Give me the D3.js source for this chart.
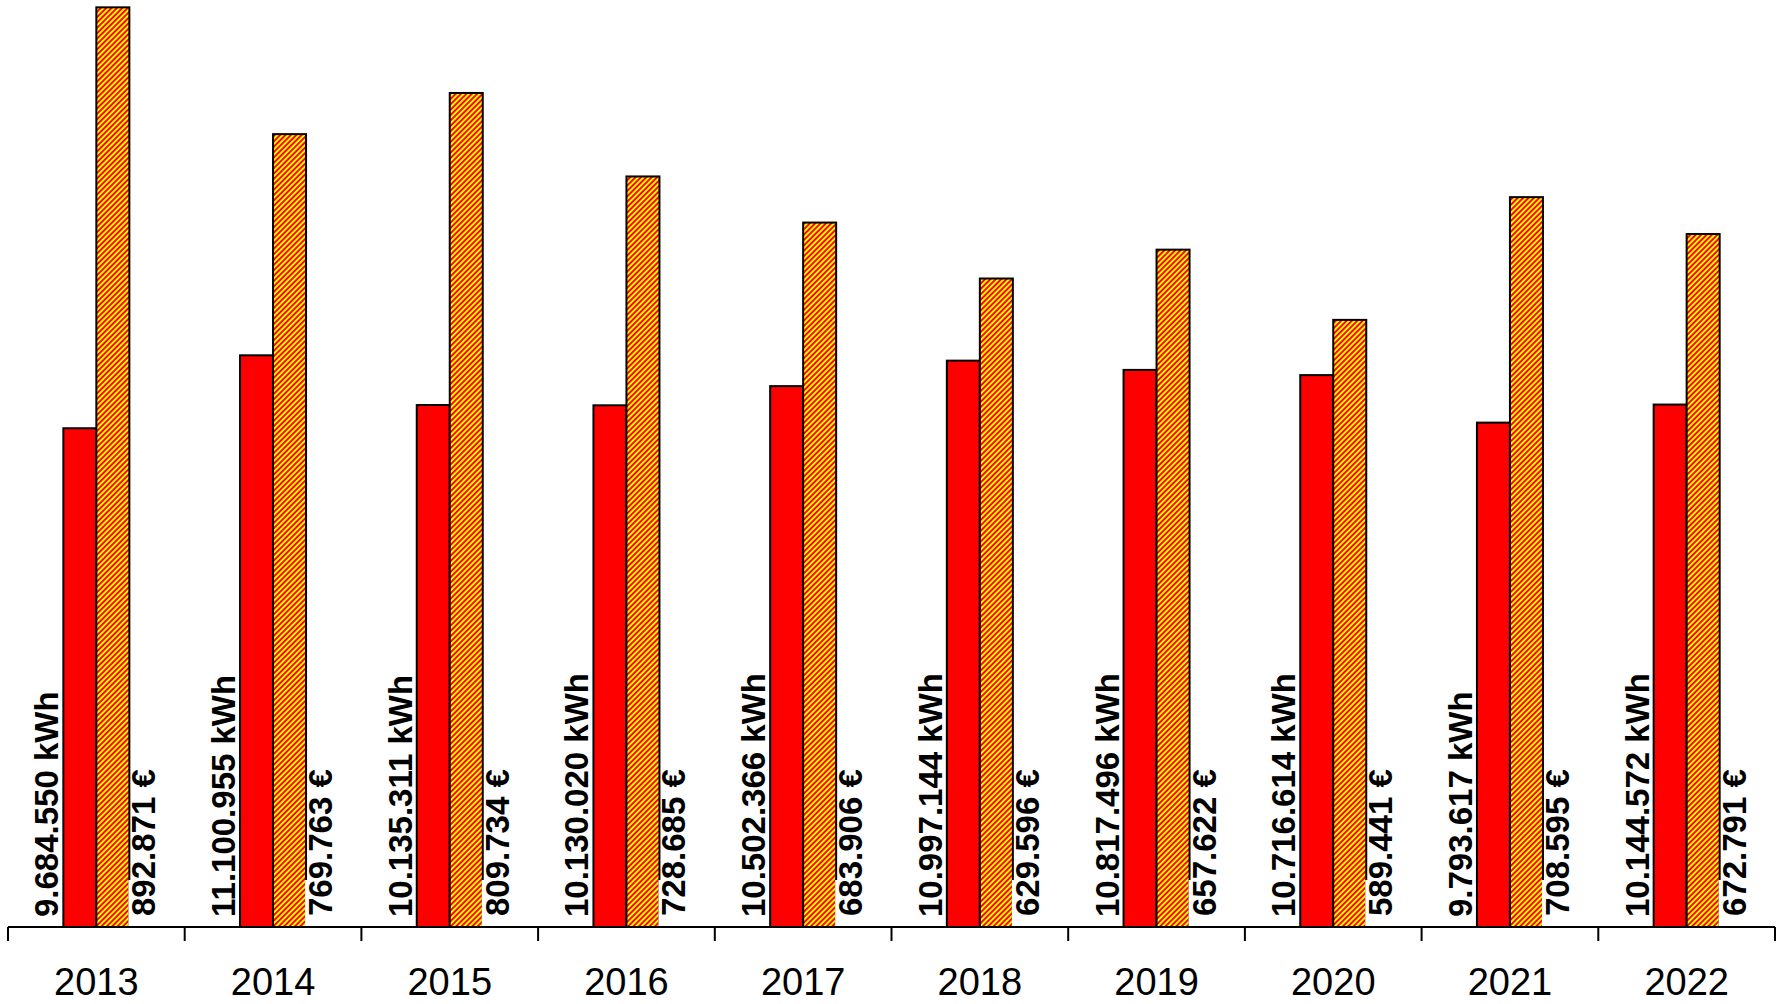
<!DOCTYPE html>
<html lang="de">
<head>
  <meta charset="UTF-8">
  <title>Verbrauch und Kosten 2013-2022</title>
  <script src="https://d3js.org/d3.v7.min.js"></script>
  <style>
    body {
      margin: 0;
      padding: 0;
      background: #ffffff;
      font-family: Arial, "Liberation Sans", sans-serif;
    }
    svg { display: block; }
    .year-label { font-size: 38px; fill: #000; }
    .val-label { font-size: 33px; font-weight: bold; fill: #000; }
  </style>
</head>
<body>
  <svg id="chart"></svg>

  <script>
    // data
    const years = ["2013", "2014", "2015", "2016", "2017", "2018", "2019", "2020", "2021", "2022"];
    const kwhValues = [9684550, 11100955, 10135311, 10130020, 10502366, 10997144, 10817496, 10716614, 9793617, 10144572];
    const euroValues = [892871, 769763, 809734, 728685, 683906, 629596, 657622, 589441, 708595, 672791];
    const kwhLabels = ["9.684.550 kWh", "11.100.955 kWh", "10.135.311 kWh", "10.130.020 kWh", "10.502.366 kWh",
                       "10.997.144 kWh", "10.817.496 kWh", "10.716.614 kWh", "9.793.617 kWh", "10.144.572 kWh"];
    const euroLabels = ["892.871 €", "769.763 €", "809.734 €", "728.685 €", "683.906 €",
                        "629.596 €", "657.622 €", "589.441 €", "708.595 €", "672.791 €"];

    const width = 1784;
    const height = 1004;
    const axisY = 927;
    const barW = 33;

    const svg = d3.select("#chart")
      .attr("width", width)
      .attr("height", height);

    // striped fill for the cost bars (upward diagonal, red on yellow)
    const defs = svg.append("defs");
    const pat = defs.append("pattern")
      .attr("id", "hatch")
      .attr("patternUnits", "userSpaceOnUse")
      .attr("width", 3.8)
      .attr("height", 3.8)
      .attr("patternTransform", "rotate(45)");
    pat.append("rect").attr("width", 3.8).attr("height", 3.8).attr("fill", "#ffff00");
    pat.append("rect").attr("width", 1.9).attr("height", 3.8).attr("fill", "#ff0000");

    const x = d3.scaleBand()
      .domain(years)
      .range([8, 1775])
      .padding(0);

    // two independent value scales (hidden secondary axis)
    const yKwh = d3.scaleLinear().domain([0, 18000000]).range([axisY, 0]);
    const yEur = d3.scaleLinear().domain([0, 900000]).range([axisY, 0]);

    const rows = years.map((y, i) => ({
      year: y, kwh: kwhValues[i], eur: euroValues[i],
      kwhLabel: kwhLabels[i], eurLabel: euroLabels[i]
    }));

    const center = d => x(d.year) + x.bandwidth() / 2;

    const g = svg.append("g");

    // consumption bars
    g.selectAll(".bar-kwh")
      .data(rows)
      .enter()
      .append("rect")
      .attr("class", "bar-kwh")
      .attr("x", d => center(d) - barW)
      .attr("y", d => yKwh(d.kwh))
      .attr("width", barW)
      .attr("height", d => axisY - yKwh(d.kwh))
      .attr("fill", "#ff0000")
      .attr("stroke", "#000")
      .attr("stroke-width", 2);

    // cost bars
    g.selectAll(".bar-eur")
      .data(rows)
      .enter()
      .append("rect")
      .attr("class", "bar-eur")
      .attr("x", d => center(d))
      .attr("y", d => yEur(d.eur))
      .attr("width", barW)
      .attr("height", d => axisY - yEur(d.eur))
      .attr("fill", "url(#hatch)")
      .attr("stroke", "#000")
      .attr("stroke-width", 2);

    // white box behind the cost labels (covers the bar edge near the bottom)
    g.selectAll(".eur-bg")
      .data(rows)
      .enter()
      .append("rect")
      .attr("x", d => center(d) + barW - 1)
      .attr("y", axisY - 47)
      .attr("width", 29)
      .attr("height", 47)
      .attr("fill", "#fff");

    // value labels, rotated
    g.selectAll(".kwh-label")
      .data(rows)
      .enter()
      .append("text")
      .attr("class", "val-label")
      .attr("transform", d => `translate(${center(d) - barW - 5},${axisY - 10}) rotate(-90)`)
      .text(d => d.kwhLabel);

    g.selectAll(".eur-label")
      .data(rows)
      .enter()
      .append("text")
      .attr("class", "val-label")
      .attr("transform", d => `translate(${center(d) + barW + 26},${axisY - 11}) rotate(-90)`)
      .text(d => d.eurLabel);

    // x axis
    const axis = d3.axisBottom(x).tickSize(0).tickFormat(d => d);
    const axisG = svg.append("g")
      .attr("transform", `translate(0,${axisY})`)
      .call(axis);
    axisG.select(".domain").remove();
    axisG.selectAll("text")
      .attr("class", "year-label")
      .attr("y", 0)
      .attr("dy", 0)
      .attr("transform", "translate(0,68)")
      .style("font-family", "Arial, 'Liberation Sans', sans-serif");

    svg.append("line")
      .attr("x1", 8).attr("x2", 1775)
      .attr("y1", axisY).attr("y2", axisY)
      .attr("stroke", "#000")
      .attr("stroke-width", 2);

    // tick marks at band boundaries
    const bounds = years.map(y => x(y)).concat([x(years[years.length - 1]) + x.bandwidth()]);
    svg.selectAll(".tick-mark")
      .data(bounds)
      .enter()
      .append("line")
      .attr("x1", d => d).attr("x2", d => d)
      .attr("y1", axisY).attr("y2", axisY + 14)
      .attr("stroke", "#000")
      .attr("stroke-width", 2);
  </script>
</body>
</html>
